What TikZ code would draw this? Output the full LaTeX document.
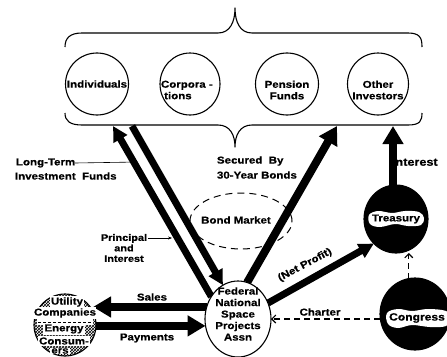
\documentclass[tikz,border=0pt]{standalone}
\usepackage{fontspec}
\newfontfamily\lab[FakeStretch=1.15,FakeBold=0.6]{Liberation Sans Bold}
\usetikzlibrary{arrows.meta,shapes.geometric,patterns,backgrounds}

\begin{document}
\begin{tikzpicture}[x=1pt,y=-1pt,
  every node/.style={inner sep=0pt,outer sep=0pt},
  txt/.style={font=\lab\fontsize{10}{11.5}\selectfont,align=center,text=black},
  smalltxt/.style={font=\lab\fontsize{9.5}{10.5}\selectfont,align=center,text=black},
  ring/.style={ellipse,draw,line width=1.1pt,fill=white},
  blackring/.style={ellipse,draw,line width=1.1pt,fill=black},
  brace/.style={line width=1.1pt,line join=round},
  fatarrow/.style={line width=7pt,-{Triangle[length=15pt,width=15pt]}},
  bigarrow/.style={line width=8pt,-{Triangle[length=18pt,width=20pt]}},
  lead/.style={line width=0.6pt},
  dasharrow/.style={line width=1.1pt,dash pattern=on 6pt off 4pt,-{Straight Barb[length=4pt,width=8pt]}},
]
\useasboundingbox (0,0) rectangle (447,356);

% investor group, held between two braces
\draw[brace] (65,47) .. controls (65,38) and (70,33) .. (82,33) -- (218,33)
  .. controls (230,33) and (235,22) .. (235,8)
  .. controls (235,22) and (240,33) .. (252,33) -- (408,33)
  .. controls (420,33) and (422,38) .. (422,47);
\draw[brace] (65,113) .. controls (65,121) and (70,125) .. (82,125) -- (218,125)
  .. controls (230,125) and (235,135) .. (235,147)
  .. controls (235,135) and (240,125) .. (252,125) -- (408,125)
  .. controls (420,125) and (422,121) .. (422,113);

\node[ring,minimum width=63pt,minimum height=62pt] (ind) at (97,84) {};
\node[ring,minimum width=60pt,minimum height=62pt] (cor) at (190,84) {};
\node[ring,minimum width=63pt,minimum height=62pt] (pen) at (287,84) {};
\node[ring,minimum width=61pt,minimum height=62pt] (oth) at (378,84) {};
\node[txt] (indt) at (ind) {Individuals};
\node[txt,align=left,anchor=west] (cort) at (161,90) {Corpora -\\\ tions};
\node[txt] (pent) at (287,90) {Pension\\Funds};
\node[txt] (otht) at (378,90) {Other\\Investors};

% attachment points on the lower brace
\coordinate (b1) at (113,126);
\coordinate (b2) at (132,126);
\coordinate (b3) at (337,126);
\coordinate (b4) at (393,126);

% bond market
\node[ellipse,draw,line width=1pt,dash pattern=on 7pt off 5pt,minimum width=102pt,minimum height=56pt] (bm) at (241,221) {};
\node[txt] (bmt) at (236,220) {Bond Market};

% agency and the other parties
\node[ring,minimum width=66pt,minimum height=76pt] (fn) at (238,319) {};
\node[blackring,minimum width=64pt,minimum height=68pt] (tr) at (396,219) {};
\node[blackring,minimum width=70pt,minimum height=72pt] (cg) at (415,314) {};
\node[ellipse,draw,line width=1.1pt,pattern=crosshatch,minimum width=62pt,minimum height=62pt] (ut) at (65,325) {};

% leader lines of the side labels
\node[txt,align=left,anchor=west] (ltl) at (16,163) {Long-Term};
\node[txt,align=left,anchor=west] (ltf) at (15,176) {Investment~~Funds};
\node[smalltxt] (pil) at (124,248) {Principal\\and\\Interest};

% flows of money and bonds
\begin{scope}[on background layer]
\fill[white] (0,0) rectangle (447,356);
\draw[lead,-{Stealth[length=4pt,width=3pt]}] (ltl.east) -- ++(63,-1);
\draw[lead,-{Stealth[length=4pt,width=3pt]}] ([xshift=1pt]pil.north east |- 0,238) -- ++(24,0);
\draw[fatarrow] (fn.140) -- (b1);
\draw[fatarrow] (b2) -- (fn.114);
\draw[bigarrow] (fn.76) -- (b3);
\draw[fatarrow] (fn.28) -- (tr.228);
\draw[bigarrow] (fn.159) -- ([xshift=-3pt]fn.159 -| ut.east);
\draw[bigarrow] (ut.east |- fn.192) -- (fn.192);
\end{scope}
\node[txt,font=\lab\fontsize{11}{12}\selectfont,anchor=west] (intl) at (392,162) {Interest};
\draw[bigarrow] (b4 |- tr.north) -- (b4);

\draw[dasharrow] (cg.west |- fn.east) -- (fn.east);
\draw[dasharrow] (cg.100) -- (cg.100 |- tr.south);

% white patches with the names in the black discs
\fill[white] plot[smooth cycle,tension=0.6] coordinates {(369,215) (378,211) (392,213) (405,211) (419,212) (424,218) (421,225) (408,226) (395,224) (380,227) (370,224)};
\node[txt] (trt) at (396,219) {Treasury};
\fill[white] plot[smooth cycle,tension=0.6] coordinates {(387,313) (398,309) (412,311) (428,309) (446,311) (450,318) (446,326) (430,327) (412,325) (398,328) (388,324)};
\node[txt,font=\lab\fontsize{10.5}{12}\selectfont] (cgt) at (417,318) {Congress};

% names in the hatched disc
\node[txt,fill=white,inner xsep=1.5pt,inner ysep=1pt] (ut1) at (67,302) {Utility};
\node[txt,fill=white,inner xsep=0.5pt,inner ysep=1.5pt] (ut2) at (65,313) {Companies};
\fill[white] (37,319) rectangle (93,325);
\draw[lead,dash pattern=on 3pt off 2pt] (38,322) -- (92,322);
\node[txt,fill=white,inner xsep=1.5pt,inner ysep=1pt] (ut3) at (64,329) {Energy};
\node[txt,fill=white,inner xsep=1pt,inner ysep=1pt] (ut4) at (64,341) {Consum-};
\node[txt,fill=white,inner xsep=1pt,inner ysep=0.5pt] (ut5) at (60,351) {ers};

\node[txt] (fnt) at (238,314) {Federal\\National\\Space\\Projects\\Assn};

% arrow labels
\node[txt,align=left,anchor=west] (sb1) at (217,161) {Secured~~By};
\node[txt,align=left,anchor=west] (sb2) at (217,175) {30-Year Bonds};
\node[txt] (sal) at (152,297) {Sales};
\node[txt] (pay) at (147,338) {Payments};
\node[txt] (chl) at (320,312) {Charter};
\node[txt,rotate=28] (npl) at (305,265) {(Net Profit)};
\end{tikzpicture}
\end{document}
